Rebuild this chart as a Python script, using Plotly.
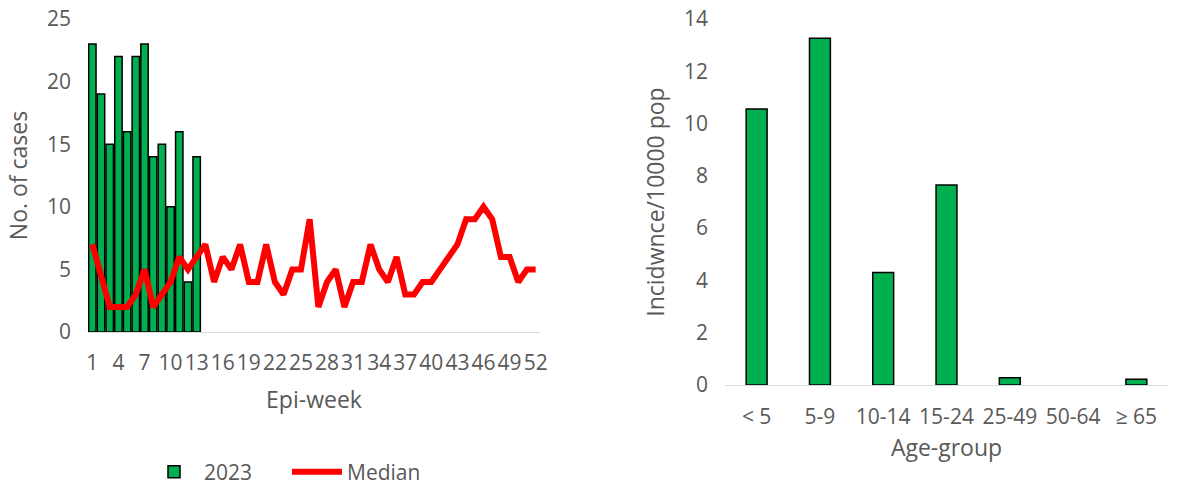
import plotly.graph_objects as go

# Weekly cases, 2023 vs. median of previous years
weeks = list(range(1, 53))
cases_2023 = [23, 19, 15, 22, 16, 22, 23, 14, 15, 10, 16, 4, 14]
median_cases = [7, 4.5, 2, 2, 2, 3, 5, 2, 3, 4, 6, 5, 6, 7,
                4, 6, 5, 7, 4, 4, 7, 4, 3, 5, 5, 9,
                2, 4, 5, 2, 4, 4, 7, 5, 4, 6, 3, 3,
                4, 4, 5, 6, 7, 9, 9, 10, 9, 6, 6, 4, 5, 5]
week_ticks = list(range(1, 53, 3))

# Incidence by age group
age_groups = ["< 5", "5-9", "10-14", "15-24", "25-49", "50-64", "≥ 65"]
incidence = [10.56, 13.26, 4.30, 7.65, 0.28, 0, 0.22]

GREEN = "#00B050"
RED = "#FF0000"
TXT = "#595959"
FONT = "Open Sans"
W, H = 1178, 485

fig = go.Figure()

fig.add_trace(go.Bar(
    x=weeks[:len(cases_2023)], y=cases_2023, name="2023",
    marker=dict(color=GREEN, line=dict(color="black", width=1.5)),
    width=0.85, xaxis="x", yaxis="y",
))
fig.add_trace(go.Scatter(
    x=weeks, y=median_cases, name="Median", mode="lines",
    line=dict(color=RED, width=6), xaxis="x", yaxis="y",
))
fig.add_trace(go.Bar(
    x=age_groups, y=incidence, showlegend=False,
    marker=dict(color=GREEN,
                line=dict(color="black",
                          width=[1.5 if v > 0 else 0 for v in incidence])),
    width=0.33, xaxis="x2", yaxis="y2",
))

tick_font = dict(family=FONT, size=21, color=TXT)
title_font = dict(family=FONT, size=23, color=TXT)

fig.update_layout(
    width=W, height=H,
    margin=dict(l=0, r=0, t=0, b=0, autoexpand=False),
    paper_bgcolor="white", plot_bgcolor="white",
    font=dict(family=FONT, color=TXT),
    barmode="overlay",
    xaxis=dict(
        domain=[88 / W, 540 / W], anchor="y", automargin=False,
        range=[0.5, 52.5], tickmode="array", tickvals=week_ticks,
        tickangle=0,
        ticks="", showgrid=False, zeroline=False,
        showline=True, linecolor="#D9D9D9", linewidth=1,
        tickfont=tick_font, ticklabelstandoff=12,
        title=dict(text="Epi-week", font=title_font, standoff=16),
    ),
    yaxis=dict(
        domain=[(H - 332) / H, (H - 19) / H], anchor="x", automargin=False,
        range=[0, 25], tickvals=[0, 5, 10, 15, 20, 25],
        showgrid=False, zeroline=False, showline=False, ticks="",
        tickfont=tick_font, ticklabelstandoff=16,
        title=dict(text="No. of cases", font=title_font, standoff=12),
    ),
    xaxis2=dict(
        domain=[725 / W, 1168 / W], anchor="y2", automargin=False,
        type="category", range=[-0.5, 6.5], tickangle=0,
        ticks="", showgrid=False, zeroline=False,
        showline=True, linecolor="#D9D9D9", linewidth=1,
        tickfont=tick_font, ticklabelstandoff=13,
        title=dict(text="Age-group", font=title_font, standoff=10),
    ),
    yaxis2=dict(
        domain=[(H - 385) / H, (H - 19) / H], anchor="x2", automargin=False,
        range=[0, 14], tickvals=list(range(0, 15, 2)),
        showgrid=False, zeroline=False, showline=False, ticks="",
        tickfont=tick_font, ticklabelstandoff=16,
        title=dict(text="Incidwnce/10000 pop", font=title_font, standoff=12),
    ),
    legend=dict(
        orientation="h", x=144 / W, xanchor="left",
        y=(H - 472) / H, yanchor="middle",
        font=dict(family=FONT, size=21, color=TXT),
        itemwidth=50, entrywidth=78,
    ),
)

fig.write_html("out.html")
